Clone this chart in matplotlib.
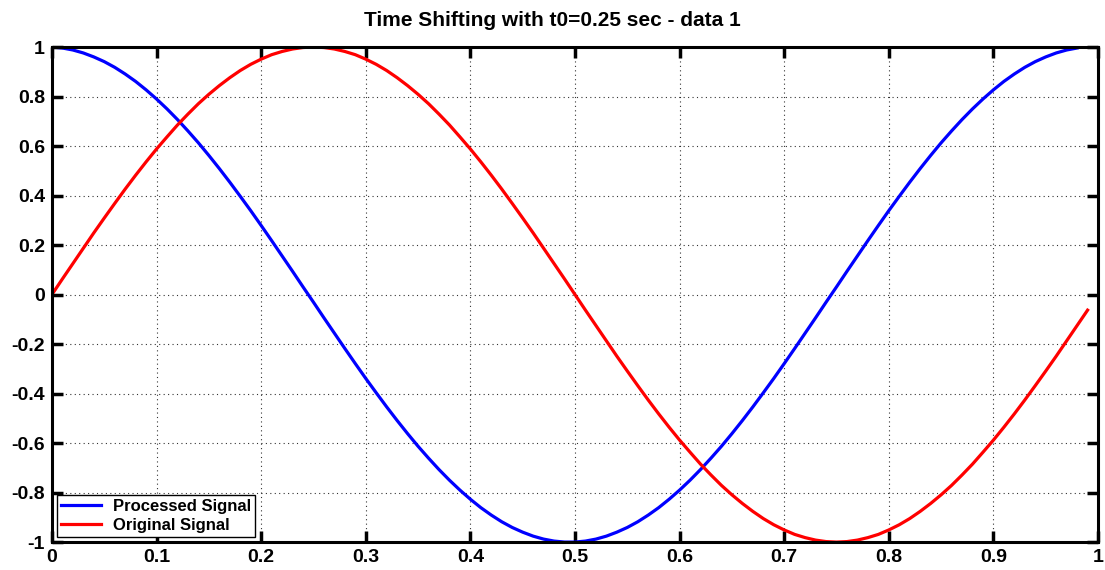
import numpy as np
import matplotlib
matplotlib.use("Agg")
import matplotlib.pyplot as plt
from matplotlib.ticker import FuncFormatter

plt.rcParams['font.family'] = ['Liberation Sans', 'DejaVu Sans']
plt.rcParams['font.weight'] = 'bold'

# sample times (10 ms step)
t_orig = np.round(np.arange(100) * 0.01, 2)
t_proc = np.round(np.arange(99) * 0.01, 2)

x_ticks = [0, 0.1, 0.2, 0.3, 0.4, 0.5, 0.6, 0.7, 0.8, 0.9, 1]
y_ticks = [-1, -0.8, -0.6, -0.4, -0.2, 0, 0.2, 0.4, 0.6, 0.8, 1]

# original signal, one period
original = [0.000, 0.063, 0.125, 0.187, 0.249, 0.309, 0.368, 0.426, 0.482, 0.536,
            0.588, 0.637, 0.685, 0.729, 0.771, 0.809, 0.844, 0.876, 0.905, 0.930,
            0.951, 0.969, 0.982, 0.992, 0.998, 1.000, 0.998, 0.992, 0.982, 0.969,
            0.951, 0.930, 0.905, 0.876, 0.844, 0.809, 0.771, 0.729, 0.685, 0.637,
            0.588, 0.536, 0.482, 0.426, 0.368, 0.309, 0.249, 0.187, 0.125, 0.063,
            0.000, -0.063, -0.125, -0.187, -0.249, -0.309, -0.368, -0.426, -0.482, -0.536,
            -0.588, -0.637, -0.685, -0.729, -0.771, -0.809, -0.844, -0.876, -0.905, -0.930,
            -0.951, -0.969, -0.982, -0.992, -0.998, -1.000, -0.998, -0.992, -0.982, -0.969,
            -0.951, -0.930, -0.905, -0.876, -0.844, -0.809, -0.771, -0.729, -0.685, -0.637,
            -0.588, -0.536, -0.482, -0.426, -0.368, -0.309, -0.249, -0.187, -0.125, -0.063]

# processed (shifted) signal
processed = [1.000, 0.996, 0.988, 0.976, 0.960, 0.941, 0.918, 0.891, 0.861, 0.827,
             0.790, 0.750, 0.707, 0.661, 0.613, 0.562, 0.509, 0.454, 0.397, 0.339,
             0.279, 0.218, 0.156, 0.094, 0.031, -0.031, -0.094, -0.156, -0.218, -0.279,
             -0.339, -0.397, -0.454, -0.509, -0.562, -0.613, -0.661, -0.707, -0.750, -0.790,
             -0.827, -0.861, -0.891, -0.918, -0.941, -0.960, -0.976, -0.988, -0.996, -1.000,
             -1.000, -0.996, -0.988, -0.976, -0.960, -0.941, -0.918, -0.891, -0.861, -0.827,
             -0.790, -0.750, -0.707, -0.661, -0.613, -0.562, -0.509, -0.454, -0.397, -0.339,
             -0.279, -0.218, -0.156, -0.094, -0.031, 0.031, 0.094, 0.156, 0.218, 0.279,
             0.339, 0.397, 0.454, 0.509, 0.562, 0.613, 0.661, 0.707, 0.750, 0.790,
             0.827, 0.861, 0.891, 0.918, 0.941, 0.960, 0.976, 0.988, 0.996]

fig = plt.figure(figsize=(11.05, 5.70), dpi=100)
ax = fig.add_axes([0.047, 0.049, 0.9467, 0.8685])

ax.plot(t_proc, processed, color='#0000ff', lw=2.3, label='Processed Signal')
ax.plot(t_orig, original, color='#ff0000', lw=2.3, label='Original Signal')

ax.set_xlim(0, 1)
ax.set_ylim(-1, 1)
ax.set_xticks(x_ticks)
ax.set_yticks(y_ticks)
fmt = FuncFormatter(lambda v, pos: '%g' % round(v, 2))
ax.xaxis.set_major_formatter(fmt)
ax.yaxis.set_major_formatter(fmt)

ax.grid(True, color='black', linestyle=(0, (1, 3)), linewidth=0.8, alpha=0.8)
ax.tick_params(direction='in', length=8, width=2.5, top=True, right=True,
               labelsize=14, pad=5)
for lab in ax.get_xticklabels() + ax.get_yticklabels():
    lab.set_fontweight('bold')
for sp in ax.spines.values():
    sp.set_linewidth(2.2)

ax.text(0.478, 1.035, 'Time Shifting with t0=0.25 sec - data 1', transform=ax.transAxes,
        ha='center', va='bottom', fontsize=15, fontweight='bold')

leg = ax.legend(loc='lower left', fontsize=12, fancybox=False,
                framealpha=1, edgecolor='black', handlelength=2.4,
                borderaxespad=0.3, labelspacing=0.25, borderpad=0.25,
                handletextpad=0.7)
leg.get_frame().set_linewidth(1.0)
for txt in leg.get_texts():
    txt.set_fontweight('bold')

fig.savefig('out.png', dpi=100)
